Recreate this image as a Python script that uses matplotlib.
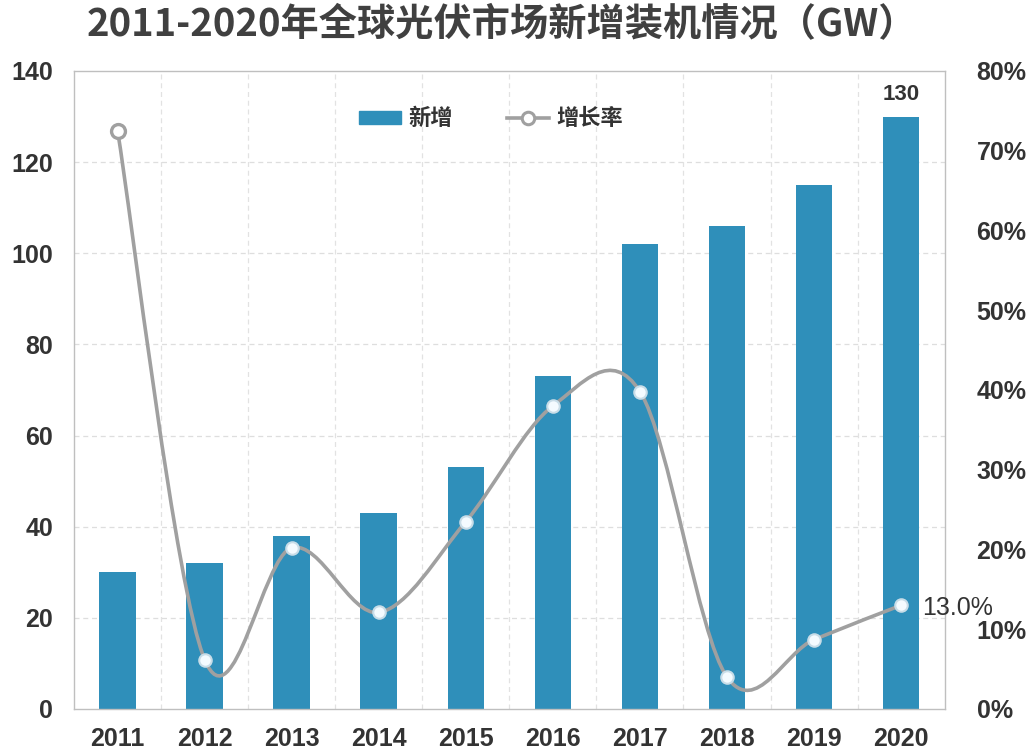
import matplotlib
matplotlib.use("Agg")
from matplotlib import pyplot as plt
from matplotlib.path import Path
from matplotlib.patches import PathPatch
from matplotlib.ticker import FuncFormatter
import numpy as np


years = ["2011", "2012", "2013", "2014", "2015", "2016", "2017", "2018", "2019", "2020"]
new_gw = [30, 32, 38, 43, 53, 73, 102, 106, 115, 130]
growth_pct = [72.5, 6.2, 20.2, 12.1, 23.5, 38.0, 39.8, 4.0, 8.7, 13.0]

_BAR_COLOR = "#2f8fba"
_LINE_COLOR = "#a0a0a0"
_TEXT_COLOR = "#333333"

plt.rcParams['font.family'] = ['Liberation Sans', 'Noto Sans CJK SC', 'DejaVu Sans']


def _smooth_path(xs, ys):
    """Catmull-Rom style bezier path through the points (like a smoothed Excel line)."""
    pts = np.column_stack([xs, ys]).astype(float)
    verts = [pts[0]]
    codes = [Path.MOVETO]
    n = len(pts)
    for i in range(n - 1):
        p0 = pts[i - 1] if i > 0 else pts[i]
        p1 = pts[i]
        p2 = pts[i + 1]
        p3 = pts[i + 2] if i + 2 < n else pts[i + 1]
        c1 = p1 + (p2 - p0) / 6.0
        c2 = p2 - (p3 - p1) / 6.0
        verts += [c1, c2, p2]
        codes += [Path.CURVE4] * 3
    return Path(verts, codes)


fig = plt.figure(figsize=(10.34, 7.51), dpi=100)
ax = fig.add_axes([0.0716, 0.056, 0.842, 0.8495])
x = np.arange(len(years))

ax.bar(x, new_gw, width=0.42, color=_BAR_COLOR, zorder=2, label="新增")
ax.set_xlim(-0.5, len(years) - 0.5)
ax.set_ylim(0, 140)
ax.set_yticks(range(0, 141, 20))
ax.set_xticks(x)
ax.set_xticklabels(years)

# dashed grid, vertical lines between categories
for y in range(20, 140, 20):
    ax.axhline(y, color="#dedede", lw=0.9, ls=(0, (4, 3)), zorder=0)
for b in x[:-1] + 0.5:
    ax.axvline(b, color="#e2e2e2", lw=0.9, ls=(0, (4, 3)), zorder=0)

for s in ax.spines.values():
    s.set_color("#bfbfbf")
    s.set_linewidth(1.0)

ax.tick_params(axis="both", length=0, labelsize=18, colors=_TEXT_COLOR)
ax.tick_params(axis="y", pad=15)
ax.tick_params(axis="x", pad=13)
for lab in ax.get_xticklabels() + ax.get_yticklabels():
    lab.set_fontweight("bold")

ax.text(x[-1], new_gw[-1] + 2.5, str(new_gw[-1]), ha="center", va="bottom",
        fontsize=16, fontweight="bold", color=_TEXT_COLOR)

ax2 = ax.twinx()
ax2.set_ylim(0, 80)
ax2.set_yticks(range(0, 81, 10))
ax2.yaxis.set_major_formatter(FuncFormatter(lambda v, p: f"{int(v)}%"))
ax2.tick_params(axis="y", length=0, labelsize=18, colors=_TEXT_COLOR, pad=23)
for lab in ax2.get_yticklabels():
    lab.set_fontweight("bold")
for s in ax2.spines.values():
    s.set_visible(False)

ax2.add_patch(PathPatch(_smooth_path(x, growth_pct), facecolor="none",
                        edgecolor=_LINE_COLOR, lw=2.6, zorder=3))
ax2.plot(x[:1], growth_pct[:1], ls="none", marker="o", ms=10, mfc="white",
         mec=_LINE_COLOR, mew=2.4, zorder=4)
ax2.plot(x[1:], growth_pct[1:], ls="none", marker="o", ms=9, mfc="#f4fbff",
         mec="#c8dde8", mew=1.5, zorder=4)
ax2.text(x[-1] + 0.24, growth_pct[-1] - 0.3, f"{growth_pct[-1]:.1f}%", ha="left",
         va="center", fontsize=18, color=_TEXT_COLOR)

# legend
bar_handle = plt.Rectangle((0, 0), 1, 1, color=_BAR_COLOR)
line_handle = plt.Line2D([], [], color=_LINE_COLOR, lw=2.6, marker="o", ms=9,
                         mfc="white", mec=_LINE_COLOR, mew=2.2)
leg = ax.legend([bar_handle, line_handle], ["新增", "增长率"], loc="center",
                bbox_to_anchor=(0.479, 0.925), ncol=2, frameon=False,
                handlelength=1.9, handleheight=0.55, handletextpad=0.35,
                columnspacing=2.4,
                prop={"family": ["Noto Sans CJK SC"], "weight": "bold", "size": 16})
for t in leg.get_texts():
    t.set_color(_TEXT_COLOR)

fig.suptitle("2011-2020年全球光伏市场新增装机情况（GW）", x=0.485, y=0.969,
             va="center", fontsize=27.5, fontweight="bold", color="#404040",
             family=["Noto Sans CJK SC"])

fig.savefig("out.png", dpi=100, facecolor="white")
